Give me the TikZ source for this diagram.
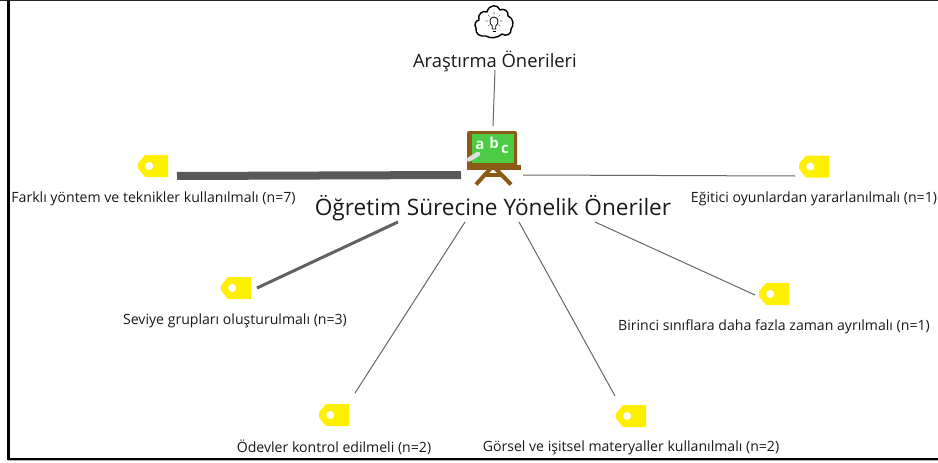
\documentclass[tikz,border=0pt]{standalone}
\usepackage{fontspec}
\setmainfont{Open Sans}
\definecolor{boardbrown}{HTML}{8B5A14}
\definecolor{boardgreen}{HTML}{4CCB45}
\definecolor{tagyellow}{HTML}{FFF000}
\tikzset{
 x=1pt,y=-1pt,
 lbl/.style={inner sep=0pt,font=\fontsize{14.1pt}{16pt}\selectfont,text=black!90},
 big/.style={inner sep=0pt,font=\fontsize{22.6pt}{26pt}\selectfont,text=black!90},
 mid/.style={inner sep=0pt,font=\fontsize{18.4pt}{20pt}\selectfont,text=black!90},
 boardtxt/.style={inner sep=0pt,text=white!92!green,font=\fontsize{15pt}{16pt}\selectfont\bfseries},
 tag/.pic={\fill[tagyellow,rounded corners=.6pt] (-15,-2.5)--(-8,-11)--(15,-11)--(15,11)--(-8,11)--(-15,2.5)--cycle;\fill[white] (-3.8,0) circle (4);},
 link/.style={draw=black!60,line width=#1},
}
\begin{document}
\begin{tikzpicture}
\useasboundingbox (0,0) rectangle (938,463);
\fill[white] (0,0) rectangle (938,463);
% frame
\draw[black!85,line width=1.2pt] (0,0.6)--(938,0.6);
\draw[black,line width=2.6pt] (8.5,0)--(8.5,458.8)--(938,458.8);
\draw[black!30,line width=.8pt] (8,460.8)--(938,460.8);
% coordinates
\coordinate (c1) at (495,70);\coordinate (c2) at (493,126);
\coordinate (a1) at (461,175);\coordinate (a2) at (177,176);
\coordinate (b1) at (398,222);\coordinate (b2) at (257,288);
\coordinate (d1) at (465,222);\coordinate (d2) at (355,393);
\coordinate (e1) at (519,222);\coordinate (e2) at (615,396);
\coordinate (f1) at (595,222);\coordinate (f2) at (755,295);
\coordinate (g1) at (523,175);\coordinate (g2) at (795,176);
\draw[link=1pt] (c1)--(c2);
\draw[link=8pt,draw=black!65] (a1)--(a2);
\draw[link=3pt,draw=black!62] (b1)--(b2);
\draw[link=1pt] (d1)--(d2);
\draw[link=1pt] (e1)--(e2);
\draw[link=1pt] (f1)--(f2);
\draw[link=1pt] (g1)--(g2);
% tags
\pic at (153,166) {tag};
\pic at (814,166.5) {tag};
\pic at (236,288) {tag};
\pic at (774,294) {tag};
\pic at (334,415) {tag};
\pic at (631,416) {tag};
% labels
\node[mid] (ara) at (495,61.5) {Araştırma Önerileri};
\node[big] (ogr) at (493,208) {Öğretim Sürecine Yönelik Öneriler};
\node[lbl] (l1) at (153.5,199) {Farklı yöntem ve teknikler kullanılmalı (n=7)};
\node[lbl] (l2) at (814,199) {Eğitici oyunlardan yararlanılmalı (n=1)};
\node[lbl] (l3) at (235,321) {Seviye grupları oluşturulmalı (n=3)};
\node[lbl] (l4) at (774,327) {Birinci sınıflara daha fazla zaman ayrılmalı (n=1)};
\node[lbl] (l5) at (334,447) {Ödevler kontrol edilmeli (n=2)};
\node[lbl] (l6) at (631,447.5) {Görsel ve işitsel materyaller kullanılmalı (n=2)};
% cloud icon
\begin{scope}[shift={(494,21)}]
\draw[black,line width=1.4pt,line join=round,fill=white]
 (-8,15) .. controls (-14,16) and (-19,13) .. (-18,7)
 .. controls (-20,4) and (-19,0) .. (-15,-1)
 .. controls (-17,-7) and (-11,-11) .. (-7,-9)
 .. controls (-5,-17) and (4,-17) .. (6,-11)
 .. controls (10,-13) and (15,-10) .. (14,-5)
 .. controls (20,-3) and (20,5) .. (17,8)
 .. controls (18,13) and (12,16) .. (8,13)
 .. controls (4,17) and (-4,18) .. (-8,15) -- cycle;
\draw[black,line width=.8pt] (0,-4) .. controls (-5,-4) and (-5,3) .. (-1.7,5) -- (-1.7,8) -- (1.7,8) -- (1.7,5) .. controls (5,3) and (5,-4) .. (0,-4);
\draw[black,line width=1pt] (-1.5,10)--(1.5,10);
\draw[black!60,line width=.6pt] (0,-9)--(0,-6.5) (-6,-6)--(-4.5,-4.5) (6,-6)--(4.5,-4.5) (-8.5,0)--(-6,0) (8.5,0)--(6,0) (-6,5)--(-4.5,3.5) (6,5)--(4.5,3.5);
\end{scope}
% board icon
\draw[line width=4pt,draw=boardbrown] (491,168)--(476,184.5) (495,168)--(511,184.5);
\draw[line width=3.5pt,draw=boardbrown] (483,175)--(503,175);
\fill[rounded corners=2pt,fill=boardbrown] (467,131) rectangle (517,167);
\fill[boardgreen] (472,133.5) rectangle (514,163);
\fill[boardbrown] (467,165) rectangle (521,170);
\draw[white!88!black,line width=4.5pt,line cap=round] (469,159.5)--(478,154);
\node[boardtxt] (ta) at (480,145) {a};
\node[boardtxt] (tb) at (494,142.5) {b};
\node[boardtxt] (tc) at (505,149) {c};
\end{tikzpicture}
\end{document}
